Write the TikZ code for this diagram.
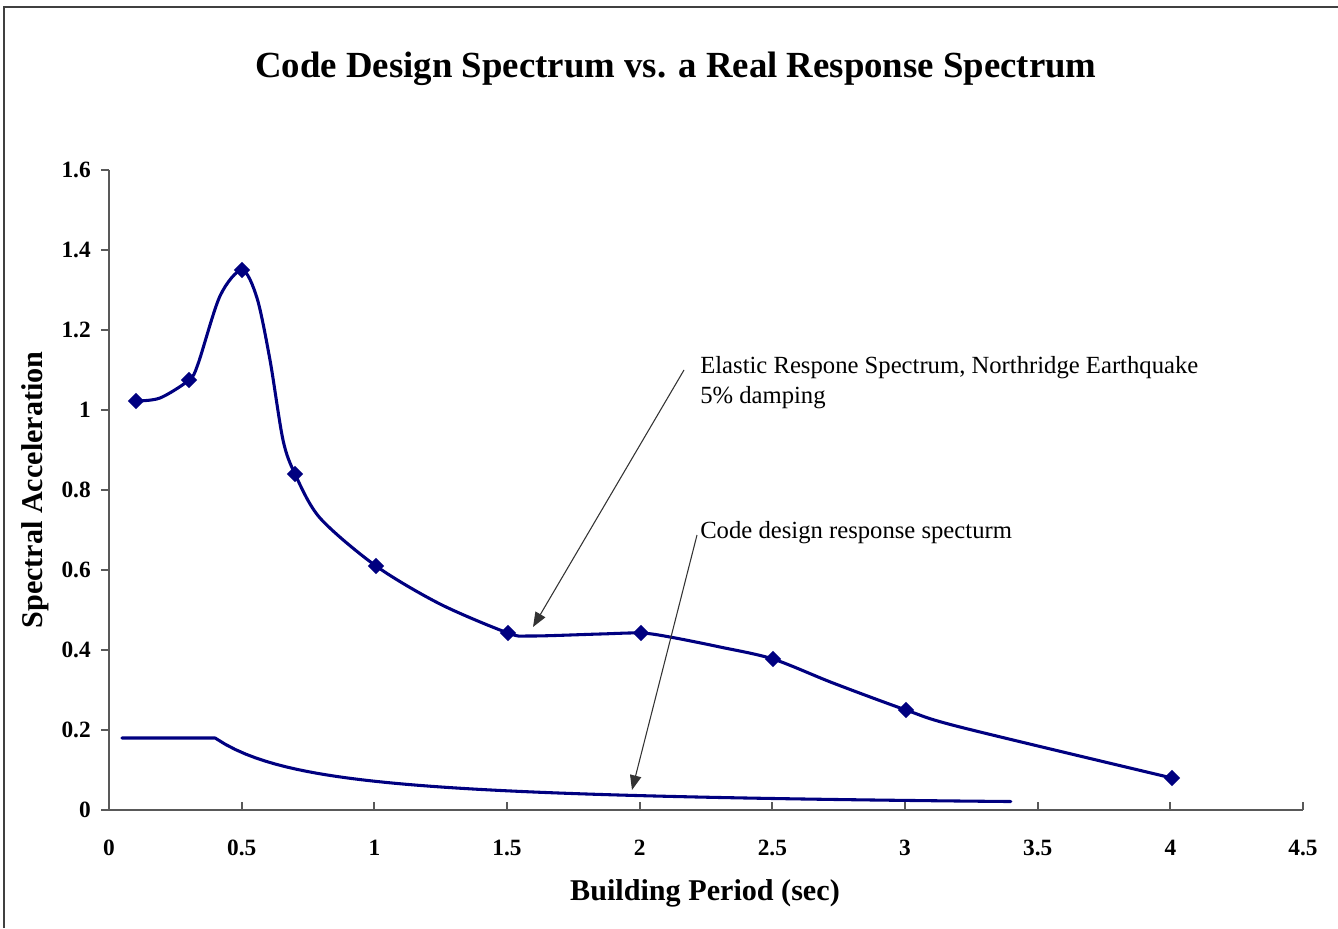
\documentclass[tikz,border=0pt]{standalone}
\usepackage{fontspec}
\setmainfont{Liberation Serif}
\usetikzlibrary{arrows.meta,shapes.geometric}
\definecolor{navy}{RGB}{0,0,128}
\begin{document}
\begin{tikzpicture}[x=0.75pt,y=-0.75pt,
  axisline/.style={draw=black!65, line width=1.4pt},
  curve/.style={draw=navy, line width=2.3pt, line join=round, line cap=round},
  mk/.style={diamond, fill=navy, inner sep=0pt, minimum size=12.5pt},
  ticklab/.style={font=\bfseries\fontsize{17.5}{18}\selectfont, inner sep=0pt},
  axislab/.style={font=\bfseries\fontsize{22.6}{24}\selectfont},
  pointer/.style={draw=black!80, line width=0.8pt, -{Triangle[length=11pt,width=8.5pt]}},
  note/.style={anchor=west, inner sep=0pt, font=\fontsize{18.5}{20}\selectfont}
]
\useasboundingbox (0,0) rectangle (1338,928);
\fill[white] (0,0) rectangle (1338,928);
% frame
\draw[black!75, line width=1.5pt] (4,928) -- (4,7) -- (1338,7);
% title
\node (title) at (676,69) {\bfseries\fontsize{27.6}{30}\selectfont Code Design Spectrum vs. a Real Response Spectrum};
% axes
\draw[axisline] (109,170) -- (109,810) -- (1303,810);
\foreach \i/\lab in {0/0,1/0.2,2/0.4,3/0.6,4/0.8,5/1,6/1.2,7/1.4,8/1.6} {
  \draw[axisline] (101,{810-80*\i}) -- (109,{810-80*\i});
  \node[ticklab, anchor=east] (yl\i) at (91,{810-80*\i}) {\lab};
}
\foreach \i/\lab in {0/0,1/0.5,2/1,3/1.5,4/2,5/2.5,6/3,7/3.5,8/4,9/4.5} {
  \draw[axisline] ({109+132.67*\i},810) -- ({109+132.67*\i},802);
  \node[ticklab] (xl\i) at ({109+132.67*\i},848) {\lab};
}
\node[axislab, rotate=90] (ylab) at (35,490) {Spectral Acceleration};
\node[axislab] (xlab) at (705,893) {Building Period (sec)};
% code design spectrum
\draw[curve] (122,738) -- (215,738)
  plot[domain=0.4:3.4, samples=80] ({109+265.33*\x},{810-28.8/\x});
% elastic response spectrum
\draw[curve] plot[smooth, tension=0.5] coordinates {
  (136,401) (160,398) (189,380) (198,364) (220,296) (242,270) (257,298)
  (270,360) (283,440) (295,474) (320,518) (376,566) (440,604) (508,633)
  (530,636) (600,634) (641,633) (670,637) (720,647) (773,659) (833,683)
  (906,710) (960,727) (1172,778)};
\foreach \n/\p in {1/{(136,401)},2/{(189,380)},3/{(242,270)},4/{(295,474)},5/{(376,566)},
  6/{(508,633)},7/{(641,633)},8/{(773,659)},9/{(906,710)},10/{(1172,778)}}
  \node[mk] (m\n) at \p {};
% annotations
\node[note] (n1) at (700,368) {Elastic Respone Spectrum, Northridge Earthquake};
\node[note] (n2) at (700,398) {5\% damping};
\node[note] (n3) at (700,533) {Code design response specturm};
\coordinate (ea) at (684,370);
\coordinate (et) at (533,627);
\coordinate (ca) at (697,535);
\coordinate (ct) at (632,790);
\draw[pointer] (ea) -- (et);
\draw[pointer] (ca) -- (ct);
\end{tikzpicture}
\end{document}
